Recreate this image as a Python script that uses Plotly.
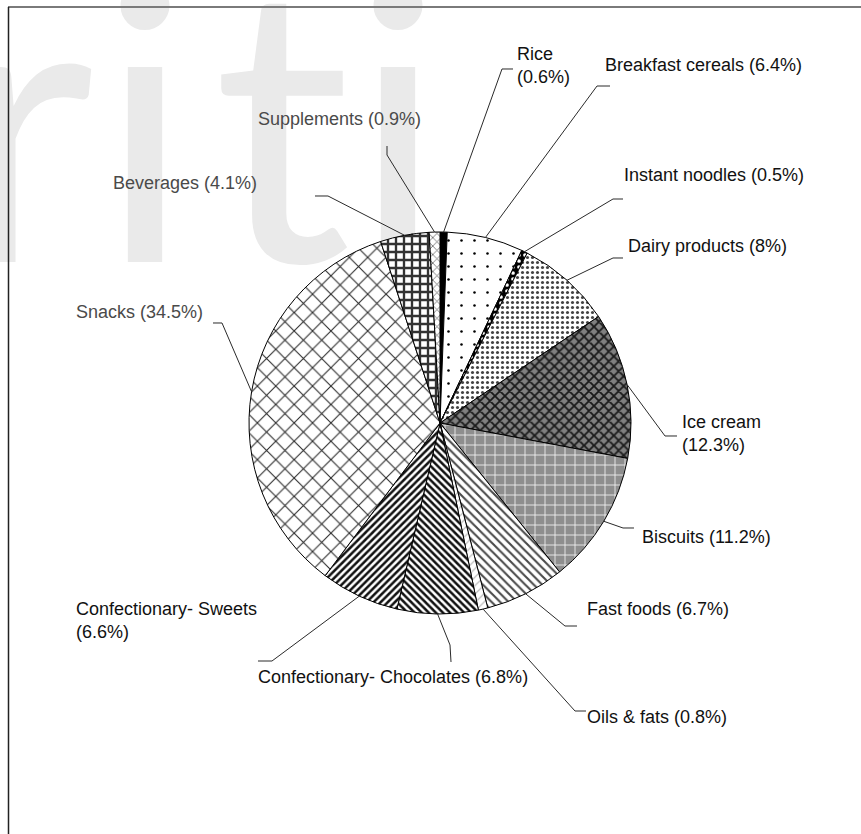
import math
import plotly.graph_objects as go

# Market share of processed food categories (%)
categories = [
    "Rice", "Breakfast cereals", "Instant noodles", "Dairy products",
    "Ice cream", "Biscuits", "Fast foods", "Oils & fats",
    "Confectionary- Chocolates", "Confectionary- Sweets", "Snacks",
    "Beverages", "Supplements",
]
shares = [0.6, 6.4, 0.5, 8, 12.3, 11.2, 6.7, 0.8, 6.8, 6.6, 34.5, 4.1, 0.9]
wrapped = {"Rice", "Ice cream", "Confectionary- Sweets"}

# Fill patterns (black & white print style)
pat_shape = ["", ".", ".", ".", "x", "+", "\\", "/", "\\", "/", "x", "+", "x"]
pat_fg = ["#000000", "#000000", "#ffffff", "#444444", "#1a1a1a", "#f4f4f4",
          "#4a4a4a", "#bbbbbb", "#111111", "#111111", "#2a2a2a", "#333333", "#666666"]
pat_bg = ["#000000", "#ffffff", "#000000", "#ffffff", "#808080", "#8e8e8e",
          "#ffffff", "#ffffff", "#ffffff", "#ffffff", "#ffffff", "#ffffff", "#ffffff"]
pat_size = [8, 13, 6, 5, 7, 10, 6, 6, 5, 5, 13, 8, 6]
pat_solid = [0.3, 0.03, 0.3, 0.3, 0.45, 0.16, 0.35, 0.2, 0.5, 0.5, 0.16, 0.5, 0.25]

W, H = 861, 834
CX, CY, R = 440.0, 423.0, 191.0

# label placement: left edge / vertical middle of text (px), and leader elbows (px)
label_pos = [
    (516, 66), (604, 65), (623, 175), (627, 246), (681, 433), (641, 537),
    (586, 609), (586, 717), (257, 677), (75, 620), (75, 312), (112, 183), (257, 119),
]
elbows = [
    [(502, 69), (513, 69)],
    [(597, 86), (610, 86)],
    [(613, 199), (623, 199)],
    [(613, 258), (623, 258)],
    [(665, 436), (677, 436)],
    [(623, 528), (634, 528)],
    [(565, 626), (577, 626)],
    [(575, 711), (586, 711)],
    [(450, 645), (451, 662)],
    [(272, 661), (258, 661)],
    [(222, 323), (213, 323)],
    [(328, 196), (315, 196)],
    [(387, 155), (387, 146)],
]
label_color = ["#111111"] * 10 + ["#4a4a4a"] * 3


def px(x):
    return x / W


def py(y):
    return 1 - y / H


fig = go.Figure(
    go.Pie(
        labels=categories,
        values=shares,
        sort=False,
        direction="clockwise",
        rotation=0,
        textinfo="none",
        hoverinfo="label+value",
        showlegend=False,
        domain=dict(x=[px(CX - R), px(CX + R)], y=[py(CY + R), py(CY - R)]),
        marker=dict(
            colors=pat_bg,
            line=dict(color="#000000", width=1),
            pattern=dict(
                shape=pat_shape, fgcolor=pat_fg, bgcolor=pat_bg,
                size=pat_size, solidity=pat_solid, fillmode="replace",
            ),
        ),
    )
)

shapes = []
annotations = []

# faint background lettering
for ch, cx_l in zip(["r", "i", "t", "i"], [24, 145, 282, 398]):
    shapes.append(dict(
        type="rect", xref="paper", yref="paper", layer="below",
        x0=px(cx_l - 100), x1=px(cx_l + 100), y0=py(278), y1=py(-62),
        line=dict(width=0), fillcolor="rgba(0,0,0,0)",
        label=dict(text=ch, textposition="middle center",
                   font=dict(family="Lato", size=385, color="#eaeaea")),
    ))

# frame
shapes.append(dict(type="line", xref="paper", yref="paper",
                   x0=px(8), x1=1, y0=py(7), y1=py(7),
                   line=dict(color="#7a7a7a", width=2)))
shapes.append(dict(type="line", xref="paper", yref="paper",
                   x0=px(8.5), x1=px(8.5), y0=py(7), y1=0,
                   line=dict(color="#222222", width=1.5)))

total = sum(shares)
cum = 0.0
for i, (name, v) in enumerate(zip(categories, shares)):
    mid = 2 * math.pi * (cum + v / 2) / total
    cum += v
    ex = CX + R * math.sin(mid)
    ey = CY - R * math.cos(mid)
    pts = [(ex, ey)] + elbows[i]
    path = "M " + " L ".join(f"{px(x):.5f},{py(y):.5f}" for x, y in pts)
    shapes.append(dict(type="path", xref="paper", yref="paper", path=path,
                       line=dict(color="#2a2a2a", width=1)))
    sep = "<br>" if name in wrapped else " "
    lx, ly = label_pos[i]
    annotations.append(dict(
        x=px(lx), y=py(ly), xref="paper", yref="paper",
        xanchor="left", yanchor="middle", showarrow=False, align="left",
        text=f"{name}{sep}({v:g}%)", borderpad=0,
        font=dict(family="Liberation Sans, Arial, sans-serif", size=18,
                  color=label_color[i]),
    ))

fig.update_layout(
    width=W, height=H,
    margin=dict(l=0, r=0, t=0, b=0),
    paper_bgcolor="#ffffff", plot_bgcolor="#ffffff",
    shapes=shapes, annotations=annotations,
)

fig.write_html("out.html")
